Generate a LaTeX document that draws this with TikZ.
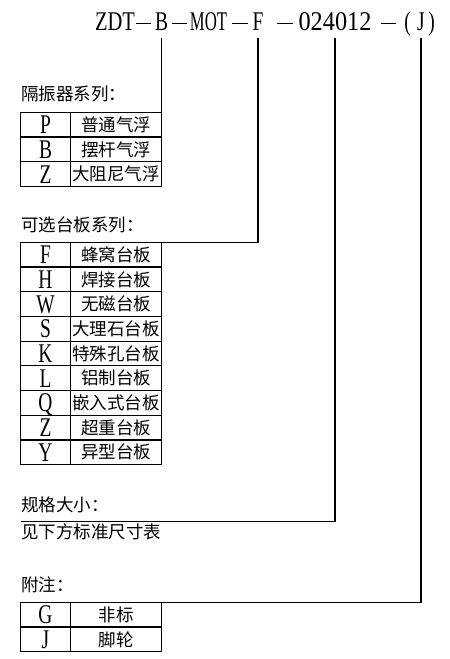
\documentclass[tikz,border=0pt]{standalone}
\usepackage{fontspec}
\usepackage{tikz}
\usetikzlibrary{positioning}
\newfontfamily\cjk{Noto Sans CJK SC}
\newfontfamily\latin[FakeStretch=0.72]{Liberation Serif}
\newfontfamily\latinwide[FakeStretch=0.9]{Liberation Serif}
\newfontfamily\latinmid[FakeStretch=0.76]{Liberation Serif}
\newfontfamily\latinnarrow[FakeStretch=0.62]{Liberation Serif}
\newcommand\codedash{\rule[6.2pt]{15.5pt}{1.1pt}}

\begin{document}
\begin{tikzpicture}[x=1pt, y=-1pt,
    code/.style={font=\latin\fontsize{27}{27}\selectfont, inner xsep=0pt, inner ysep=8pt, text depth=0pt, anchor=base},
    dashmark/.style={inner sep=0pt, anchor=base},
    heading/.style={font=\cjk\fontsize{17.5}{20}\selectfont, inner sep=0pt, anchor=base west},
    keycell/.style={draw, line width=1.2pt, outer sep=0pt, inner sep=0pt, minimum width=50pt, minimum height=24.7pt, font=\latin\fontsize{27}{27}\selectfont, text height=17.9pt, text depth=0pt},
    namecell/.style={draw, line width=1.2pt, outer sep=0pt, inner sep=0pt, minimum width=91pt, minimum height=24.7pt, font=\cjk\fontsize{17.5}{17.5}\selectfont, text height=15.4pt, text depth=2.1pt},
    link/.style={line width=1.2pt}
]
\useasboundingbox (0,0) rectangle (450,659);

% model code
\node[code, font=\latinmid\fontsize{27}{27}\selectfont] (tZDT) at (115,30) {ZDT};
\node[dashmark] (d1) at (143.5,30) {\codedash};
\node[code] (tB) at (161.5,30) {B};
\node[dashmark] (d2) at (179.5,30) {\codedash};
\node[code, font=\latinnarrow\fontsize{27}{27}\selectfont] (tMOT) at (208.5,30) {MOT};
\node[dashmark] (d3) at (240,30) {\codedash};
\node[code] (tF) at (258,30) {F};
\node[dashmark] (d4) at (285,30) {\codedash};
\node[code, font=\latinwide\fontsize{27}{27}\selectfont] (tSize) at (335,30) {024012};
\node[dashmark] (d5) at (388.5,30) {\codedash};
\node[code] (lpar) at (407.5,30) {(};
\node[code] (tJ) at (421,30) {J};
\node[code] (rpar) at (431.5,30) {)};

% isolator series
\node[heading] (isoHead) at (21,100) {隔振器系列：};
\node[keycell, anchor=north west] (p1) at (20.5,112.3) {P};
\node[namecell, right=0pt of p1] (p1n) {普通气浮};
\node[keycell, below=0pt of p1] (p2) {B};
\node[namecell, right=0pt of p2] (p2n) {摆杆气浮};
\node[keycell, below=0pt of p2] (p3) {Z};
\node[namecell, right=0pt of p3] (p3n) {大阻尼气浮};

% table top series
\node[heading] (topHead) at (21,231.5) {可选台板系列：};
\node[keycell, anchor=north west] (f1) at (20.5,242.3) {F};
\node[namecell, right=0pt of f1] (f1n) {蜂窝台板};
\node[keycell, below=0pt of f1] (f2) {H};
\node[namecell, right=0pt of f2] (f2n) {焊接台板};
\node[keycell, below=0pt of f2] (f3) {W};
\node[namecell, right=0pt of f3] (f3n) {无磁台板};
\node[keycell, below=0pt of f3] (f4) {S};
\node[namecell, right=0pt of f4] (f4n) {大理石台板};
\node[keycell, below=0pt of f4] (f5) {K};
\node[namecell, right=0pt of f5] (f5n) {特殊孔台板};
\node[keycell, below=0pt of f5] (f6) {L};
\node[namecell, right=0pt of f6] (f6n) {铝制台板};
\node[keycell, below=0pt of f6] (f7) {Q};
\node[namecell, right=0pt of f7] (f7n) {嵌入式台板};
\node[keycell, below=0pt of f7] (f8) {Z};
\node[namecell, right=0pt of f8] (f8n) {超重台板};
\node[keycell, below=0pt of f8] (f9) {Y};
\node[namecell, right=0pt of f9] (f9n) {异型台板};

% size
\node[heading] (sizeHead) at (21,511.5) {规格大小：};
\coordinate (sizeEnd) at (20.5,521.7);
\node[heading] (sizeNote) at (21,538.5) {见下方标准尺寸表};

% remarks
\node[heading] (noteHead) at (21,591.5) {附注：};
\node[keycell, anchor=north west] (g1) at (20.5,602.3) {G};
\node[namecell, right=0pt of g1] (g1n) {非标};
\node[keycell, below=0pt of g1] (g2) {J};
\node[namecell, right=0pt of g2] (g2n) {脚轮};

\draw[link] (tB.south) -- (p1n.north east);
\draw[link] (tF.south) |- (f1n.north east);
\draw[link] (tSize.south) |- (sizeEnd);
\draw[link] (tJ.south) |- (g1n.north east);

\end{tikzpicture}
\end{document}
